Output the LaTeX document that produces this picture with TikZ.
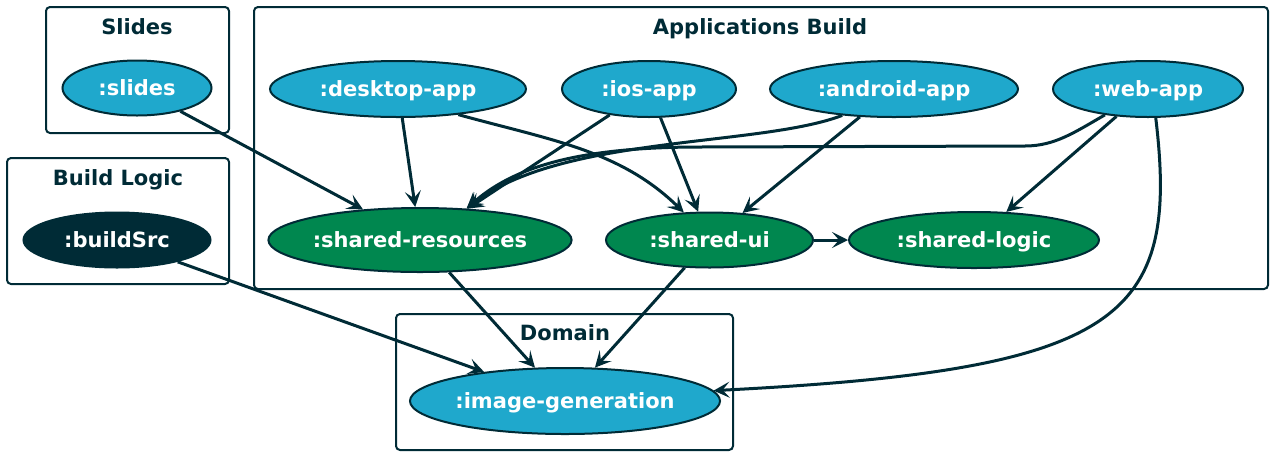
\documentclass[tikz,border=0pt]{standalone}
\usepackage{fontspec}
\setmainfont{DejaVu Sans}
\usetikzlibrary{arrows.meta,shapes.geometric}
\definecolor{gvdark}{HTML}{002B36}
\definecolor{gvblue}{HTML}{1FA8CC}
\definecolor{gvgreen}{HTML}{00874F}
\tikzset{
	module/.style={ellipse, draw=gvdark, line width=2pt, inner sep=0pt, text=white, text height=17pt, text depth=3pt, font=\bfseries\fontsize{21}{25}\selectfont},
	appmod/.style={module, fill=gvblue},
	sharedmod/.style={module, fill=gvgreen},
	logicmod/.style={module, fill=gvdark},
	cluster/.style={draw=gvdark, line width=2pt, rounded corners=4pt},
	clustertitle/.style={text=gvdark, inner sep=0pt, text height=17pt, text depth=3pt, font=\bfseries\fontsize{21}{25}\selectfont},
	dep/.style={draw=gvdark, line width=3pt, -{Stealth[length=16pt,width=16pt,inset=7pt]}},
}

\begin{document}
\begin{tikzpicture}[x=1pt, y=-1pt]
			%%%%% START %%%%%
			\useasboundingbox (0, 0) rectangle (1273, 456);
			
			% clusters
			\draw[cluster] (46, 7) rectangle (229, 133);
			\node[clustertitle] (slidestitle) at (137, 27) {Slides};
			\draw[cluster] (7, 158) rectangle (229, 284);
			\node[clustertitle] (logictitle) at (118, 178) {Build Logic};
			\draw[cluster] (254, 7) rectangle (1268, 289);
			\node[clustertitle] (appstitle) at (760, 27) {Applications Build};
			\draw[cluster] (396, 314) rectangle (733, 450);
			\node[clustertitle] (domaintitle) at (565, 333) {Domain};
			
			% modules
			\node[appmod, minimum width=149pt, minimum height=55pt] (slides) at (137, 88) {:slides};
			\node[appmod, minimum width=256pt, minimum height=56pt] (desk) at (398, 89) {:desktop-app};
			\node[appmod, minimum width=174pt, minimum height=56pt] (ios) at (649, 89) {:ios-app};
			\node[appmod, minimum width=248pt, minimum height=56pt] (andr) at (894, 89) {:android-app};
			\node[appmod, minimum width=190pt, minimum height=56pt] (web) at (1148, 89) {:web-app};
			\node[sharedmod, minimum width=302pt, minimum height=64pt] (sres) at (420, 240) {:shared-resources};
			\node[sharedmod, minimum width=207pt, minimum height=55pt] (sui) at (709.5, 240) {:shared-ui};
			\node[sharedmod, minimum width=250pt, minimum height=56pt] (slog) at (974, 240) {:shared-logic};
			\node[logicmod, minimum width=187pt, minimum height=55pt] (bsrc) at (117, 240) {:buildSrc};
			\node[appmod, minimum width=306pt, minimum height=66pt] (imgen) at (565, 401) {:image-generation};
			
			% dependencies
			\draw[dep] (slides) -- (sres);
			\draw[dep] (desk) -- (sres);
			\draw[dep] (desk.-23) .. controls (550, 140) and (620, 150) .. (sui.133);
			\draw[dep] (ios) -- (sres);
			\draw[dep] (ios) -- (sui);
			\draw[dep] (andr.207) .. controls (760, 147) and (560, 135) .. (sres.34);
			\draw[dep] (web.211) .. controls (1075, 132) and (1055, 146) .. (1025, 146) -- (700, 147) .. controls (570, 147) and (510, 170) .. (sres.34);
			\draw[dep] (andr) -- (sui);
			\draw[dep] (web) -- (slog);
			\draw[dep] (web.-75) .. controls (1180, 320) and (1120, 370) .. (imgen.4);
			\draw[dep] (sui) -- (slog);
			\draw[dep] (sres) -- (imgen);
			\draw[dep] (sui) -- (imgen);
			\draw[dep] (bsrc) -- (imgen);
			
			%%%%% END %%%%%
\end{tikzpicture}
\end{document}
